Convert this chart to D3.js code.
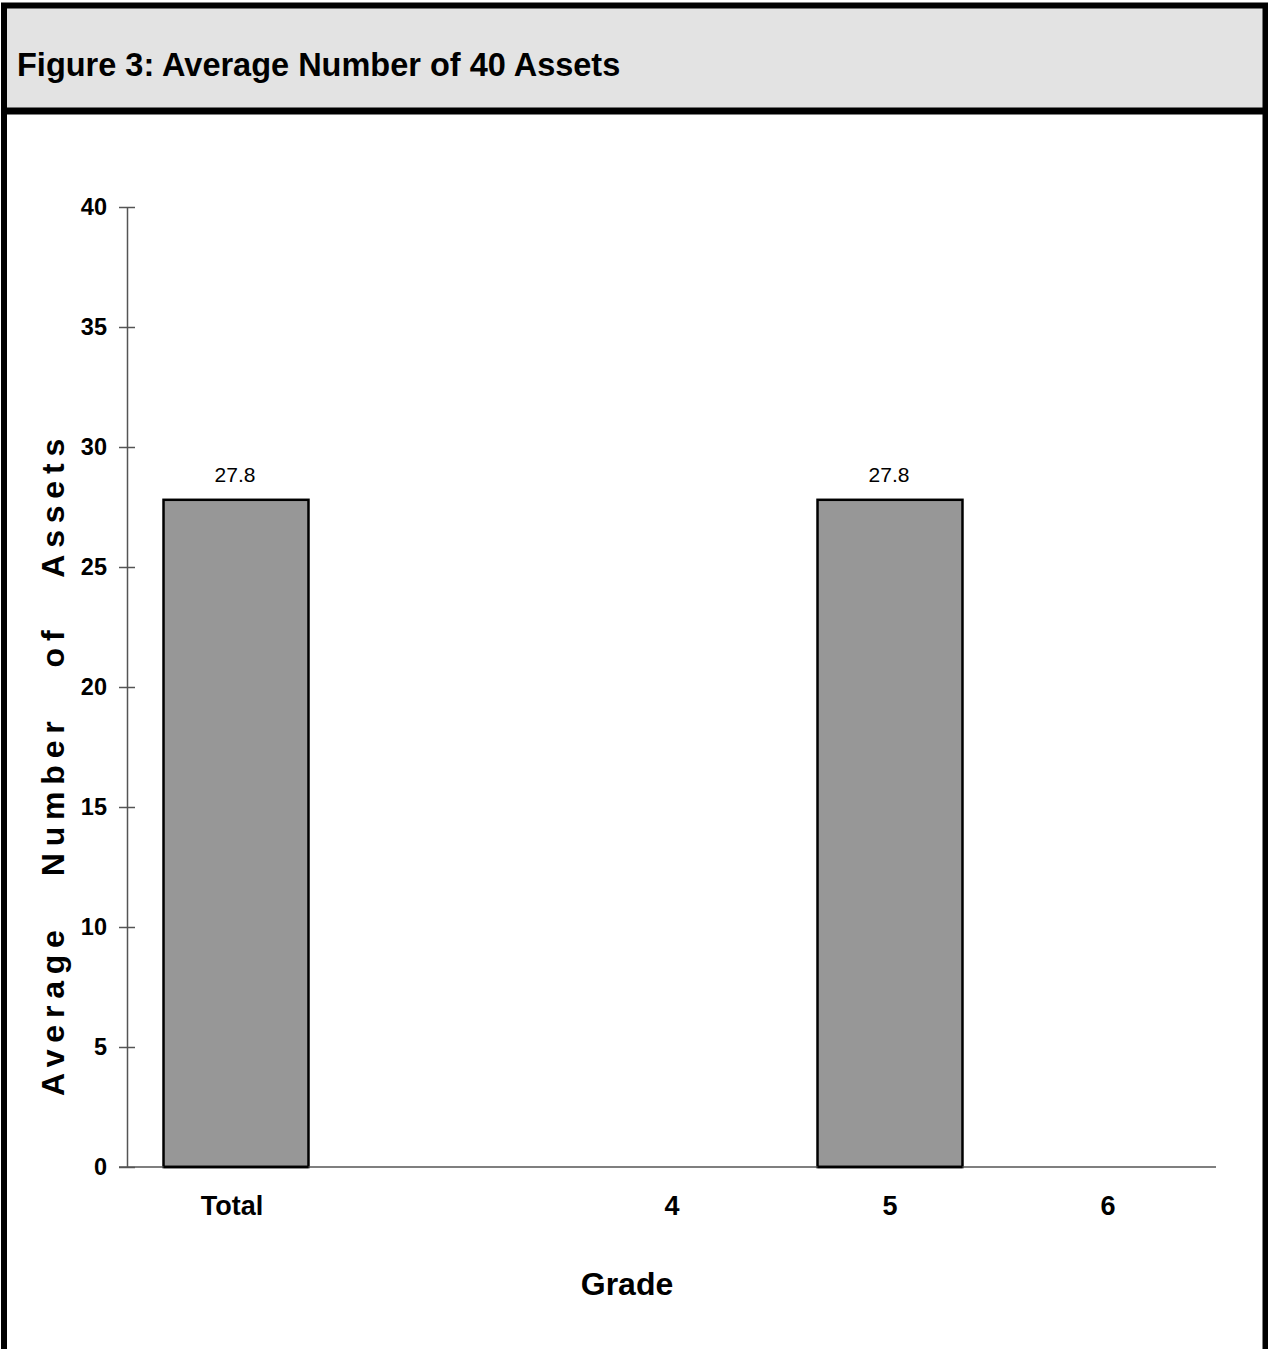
<!DOCTYPE html>
<html>
<head>
<meta charset="utf-8">
<script src="https://cdn.jsdelivr.net/npm/d3@7"></script>
<style>
    body { margin: 0; background: #ffffff; }
    svg text { font-family: "Liberation Sans", Arial, Helvetica, sans-serif; }
</style>
</head>
<body>
<div id="content"></div>
<script>
// ******* DATA *******
const grades = ["Total", " ", "4", "5", "6"];   // second slot is an empty gap in the chart
const avgAssets = [27.8, null, null, 27.8, null];
const yTicks = [0, 5, 10, 15, 20, 25, 30, 35, 40];

const chartTitle = "Figure 3: Average Number of 40 Assets";
const xTitle = "Grade";
const yTitle = "Average   Number   of   Assets";


// ******* LAYOUT *******
const width = 1268;
const height = 1349;

// plot area edges, in page pixels
const plot = { left: 127, right: 1217, top: 207, bottom: 1167 };

const svg = d3.select("#content").append("svg")
    .attr("width", width)
    .attr("height", height);

//-----------------------
// frame and header box
svg.append("rect")
    .attr("x", 7).attr("y", 8)
    .attr("width", 1256).attr("height", 100)
    .attr("fill", "#e3e3e3");

svg.append("rect")
    .attr("x", 4).attr("y", 5.5)
    .attr("width", 1261.5).attr("height", 1400)
    .attr("fill", "none")
    .attr("stroke", "#000")
    .attr("stroke-width", 6);

svg.append("line")
    .attr("x1", 4).attr("x2", 1265.5)
    .attr("y1", 111).attr("y2", 111)
    .attr("stroke", "#000")
    .attr("stroke-width", 7);

svg.append("text")
    .attr("x", 17).attr("y", 76)
    .attr("font-size", 32.5)
    .attr("font-weight", "bold")
    .text(chartTitle);


//-----------------------
// scales
const x = d3.scaleBand()
    .domain(grades)
    .range([plot.left, plot.right])
    .paddingInner(0.335)
    .paddingOuter(0.1675);

const y = d3.scaleLinear()
    .domain([0, 40])
    .range([plot.bottom, plot.top]);


//-----------------------
// bars
const barData = grades.map((g, i) => ({ grade: g, value: avgAssets[i] }))
    .filter(d => d.value !== null);

svg.append("g")
    .selectAll("rect")
    .data(barData)
    .join("rect")
    .attr("x", d => x(d.grade))
    .attr("y", d => y(d.value))
    .attr("width", x.bandwidth())
    .attr("height", d => y(0) - y(d.value))
    .attr("fill", "#979797")
    .attr("stroke", "#000")
    .attr("stroke-width", 2.5);

// value labels above the bars
svg.append("g")
    .selectAll("text")
    .data(barData)
    .join("text")
    .attr("x", d => x(d.grade) + x.bandwidth() / 2 - 1)
    .attr("y", d => y(d.value) - 17.5)
    .attr("text-anchor", "middle")
    .attr("font-size", 21)
    .text(d => d.value.toFixed(1));


//-----------------------
// axes
const yAxis = svg.append("g")
    .attr("transform", `translate(${plot.left},0)`)
    .call(d3.axisLeft(y).tickValues(yTicks).tickSizeInner(8).tickSizeOuter(0).tickPadding(12));

// ticks cross the axis line on both sides
yAxis.selectAll(".tick line").attr("x1", 8).attr("x2", -8);
yAxis.selectAll("line, path").attr("stroke", "#555").attr("stroke-width", 1.5);
yAxis.selectAll("text")
    .attr("font-size", 23.5)
    .attr("font-weight", "bold")
    .attr("fill", "#000");

const xAxis = svg.append("g")
    .attr("transform", `translate(0,${plot.bottom})`)
    .call(d3.axisBottom(x).tickSize(0).tickPadding(29));

xAxis.select(".domain")
    .attr("d", `M${plot.left - 8},0H${plot.right - 1}`)
    .attr("stroke", "#555")
    .attr("stroke-width", 1.5);
xAxis.selectAll("text")
    .attr("font-size", 27)
    .attr("font-weight", "bold")
    .attr("fill", "#000");
xAxis.selectAll(".tick")
    .filter(d => d === "Total")
    .select("text")
    .attr("dx", -4);

// redraw bars' bottom edge over the axis line
svg.append("g")
    .selectAll("line")
    .data(barData)
    .join("line")
    .attr("x1", d => x(d.grade))
    .attr("x2", d => x(d.grade) + x.bandwidth())
    .attr("y1", y(0)).attr("y2", y(0))
    .attr("stroke", "#000")
    .attr("stroke-width", 2.5);


//-----------------------
// axis titles
svg.append("text")
    .attr("x", 627).attr("y", 1295)
    .attr("text-anchor", "middle")
    .attr("font-size", 32)
    .attr("font-weight", "bold")
    .text(xTitle);

svg.append("text")
    .attr("transform", "translate(64,1096) rotate(-90)")
    .attr("font-size", 32)
    .attr("font-weight", "bold")
    .style("letter-spacing", "6.8px")
    .style("white-space", "pre")
    .text(yTitle);
</script>
</body>
</html>
